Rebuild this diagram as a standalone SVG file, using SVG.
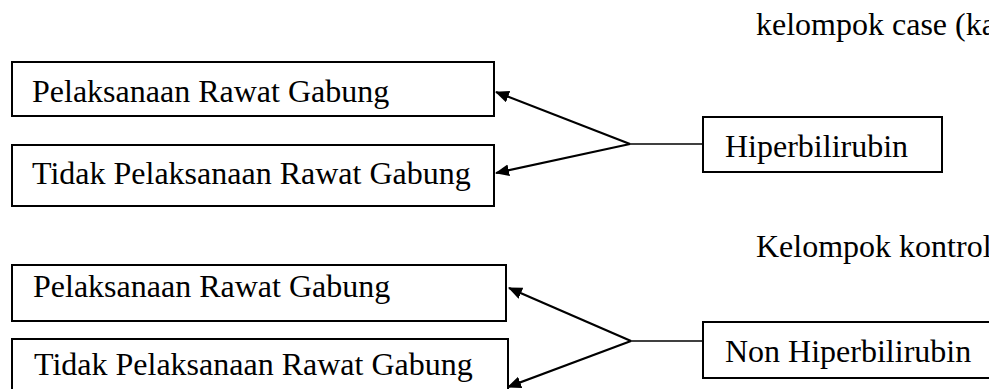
<svg xmlns="http://www.w3.org/2000/svg" width="989" height="389" viewBox="0 0 989 389">
  <style>
    .box { fill: #fff; stroke: #000; stroke-width: 2; }
    .lbl { font-family: "Liberation Serif", "Times New Roman", serif; font-size: 32px; fill: #000; }
    .edge { fill: none; stroke: #000; stroke-width: 2.2; }
    .stem { fill: none; stroke: #000; stroke-width: 1.6; }
  </style>
  <defs>
    <marker id="arrow" markerUnits="userSpaceOnUse" markerWidth="16" markerHeight="14" refX="13" refY="6" orient="auto">
      <path d="M0,0 L14,6 L0,12 z" fill="#000"/>
    </marker>
  </defs>

  <rect width="989" height="389" fill="#fff"/>

  <!-- group headings -->
  <text class="lbl" x="756" y="35">kelompok case (ka</text>
  <text class="lbl" x="756" y="257">Kelompok kontrol</text>

  <!-- case group -->
  <g id="case-rawat-gabung">
    <rect class="box" x="12" y="62" width="482" height="54"/>
    <text class="lbl" x="32" y="102">Pelaksanaan Rawat Gabung</text>
  </g>
  <g id="case-tidak-rawat-gabung">
    <rect class="box" x="12" y="145" width="482" height="61"/>
    <text class="lbl" x="32" y="184">Tidak Pelaksanaan Rawat Gabung</text>
  </g>
  <g id="hiperbilirubin">
    <rect class="box" x="703" y="117" width="239" height="55"/>
    <text class="lbl" x="725" y="157">Hiperbilirubin</text>
  </g>

  <!-- control group -->
  <g id="kontrol-rawat-gabung">
    <rect class="box" x="12" y="265" width="494" height="56"/>
    <text class="lbl" x="33" y="297">Pelaksanaan Rawat Gabung</text>
  </g>
  <g id="kontrol-tidak-rawat-gabung">
    <rect class="box" x="12" y="339" width="496" height="60"/>
    <text class="lbl" x="34" y="375">Tidak Pelaksanaan Rawat Gabung</text>
  </g>
  <g id="non-hiperbilirubin">
    <rect class="box" x="703" y="322" width="300" height="56"/>
    <text class="lbl" x="725" y="362">Non Hiperbilirubin</text>
  </g>

  <!-- connectors -->
  <g id="connectors">
    <line class="stem" x1="630" y1="144" x2="703" y2="144"/>
    <line class="edge" x1="630" y1="144" x2="496" y2="92" marker-end="url(#arrow)"/>
    <line class="edge" x1="630" y1="144" x2="496" y2="173" marker-end="url(#arrow)"/>

    <line class="stem" x1="631" y1="341" x2="703" y2="341"/>
    <line class="edge" x1="631" y1="341" x2="509" y2="288" marker-end="url(#arrow)"/>
    <line class="edge" x1="631" y1="341" x2="508" y2="387" marker-end="url(#arrow)"/>
  </g>
</svg>
